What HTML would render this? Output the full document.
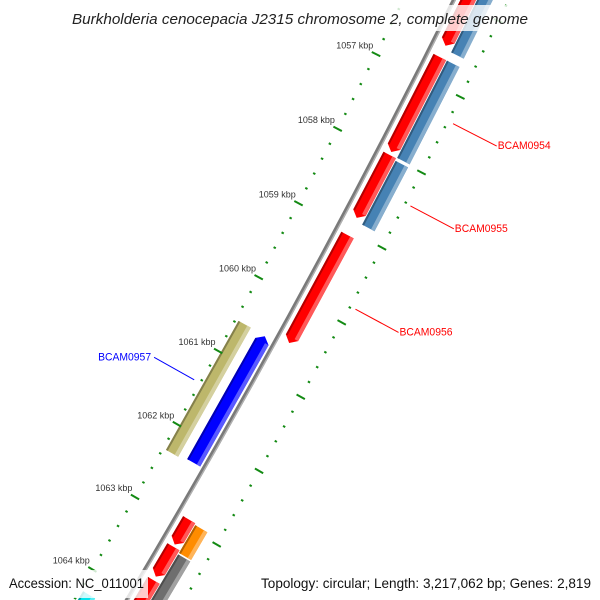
<!DOCTYPE html>
<html><head><meta charset="utf-8"><style>
html,body{margin:0;padding:0;background:#fff;width:600px;height:600px;overflow:hidden;}
svg{display:block;overflow:hidden;}
text{font-family:"Liberation Sans","DejaVu Sans",sans-serif;}
</style></head><body>
<svg id="map" width="600" height="600" viewBox="0 0 600 600" xmlns="http://www.w3.org/2000/svg">
<g id="features"></g>
<g id="backbone"></g>
<g id="ticks"></g>
<g id="labels"></g>
<rect x="66" y="5" width="468" height="26" fill="#fff" fill-opacity="0.8"/>
<text x="300" y="24" text-anchor="middle" font-size="14.5" font-style="italic" fill="#222" textLength="456" lengthAdjust="spacingAndGlyphs">Burkholderia cenocepacia J2315 chromosome 2, complete genome</text>
<rect x="4" y="570" width="144" height="28" fill="#fff" fill-opacity="0.8"/>
<text x="9" y="588" font-size="14" fill="#111" textLength="135" lengthAdjust="spacingAndGlyphs">Accession: NC_011001</text>
<text x="591" y="588" text-anchor="end" font-size="14" fill="#111" textLength="330" lengthAdjust="spacingAndGlyphs">Topology: circular; Length: 3,217,062 bp; Genes: 2,819</text>
</svg>
<script>
// ---- data ----
const featStart = [1055.5, 1056.69, 1057.99, 1059.06, 1062.91, 1063.28, 1063.74, 1055.5, 1056.69, 1058.02, 1062.93, 1063.33, 1060.58, 1060.57, 1064.28];
const featEnd   = [1056.54, 1057.95, 1058.83, 1060.51, 1063.25, 1063.69, 1064.6, 1056.58, 1057.98, 1058.87, 1063.31, 1064.6, 1062.30, 1062.33, 1065.0];
const featTrack = ['o1','o1','o1','o1','o1','o1','o1','o2','o2','o2','o2','o2','i1','i2','i2'];
const featColor = ['#ff0000','#ff0000','#ff0000','#ff0000','#ff0000','#ff0000','#ff0000','#4682b4','#4682b4','#4682b4','#ff8c00','#6e6e6e','#0000ff','#bdb76b','#00e5ee'];
const featDir   = [1,1,1,1,1,1,1,0,0,0,0,0,-1,0,0];
const tickMajors = [1056,1057,1058,1059,1060,1061,1062,1063,1064,1065];
const tickLabels = ['1056 kbp','1057 kbp','1058 kbp','1059 kbp','1060 kbp','1061 kbp','1062 kbp','1063 kbp','1064 kbp','1065 kbp'];
const geneNames = ['BCAM0954','BCAM0955','BCAM0956','BCAM0957'];
const geneFeature = [1,2,3,12];
const geneSide = [1,1,1,-1];

// ---- geometry ----
const NS='http://www.w3.org/2000/svg';
const cx=-7488, cy=-3939, a0=26.92, degPerKbp=0.546, R_BACK=8865;
const tracks={i2:[8823,8837], i1:[8846,8861], o1:[8871,8885], o2:[8886,8900]};
function pt(k,r){const a=(a0+(k-1057)*degPerKbp)*Math.PI/180;return [cx+r*Math.cos(a), cy+r*Math.sin(a)];}
function poly(pts){return pts.map(p=>p[0].toFixed(2)+','+p[1].toFixed(2)).join(' ');}
function shade(hex,f){let n=parseInt(hex.slice(1),16);let r=n>>16,g=(n>>8)&255,b=n&255;
  const m=c=>Math.round(f>0?c+(255-c)*f:c*(1+f));return `rgb(${m(r)},${m(g)},${m(b)})`;}

const fg=document.getElementById('features');
for(let i=0;i<featStart.length;i++){
  const [r1,r2]=tracks[featTrack[i]]; const a=featStart[i], b=featEnd[i], d=featDir[i];
  const h=0.07, rm=(r1+r2)/2; let pts, sa=a, sb=b;
  if(d===1){pts=[pt(a,r1),pt(a,r2),pt(b-h,r2),pt(b,rm),pt(b-h,r1)]; sb=b-h;}
  else if(d===-1){pts=[pt(a,rm),pt(a+h,r2),pt(b,r2),pt(b,r1),pt(a+h,r1)]; sa=a+h;}
  else {pts=[pt(a,r1),pt(a,r2),pt(b,r2),pt(b,r1)];}
  const p=document.createElementNS(NS,'polygon');
  
  
  p.setAttribute('points',poly(pts)); p.setAttribute('fill',featColor[i]); fg.appendChild(p);
  const lt=document.createElementNS(NS,'polygon');
  
  
  lt.setAttribute('points',poly([pt(sa,r2-4),pt(sa,r2),pt(sb,r2),pt(sb,r2-4)]));
  lt.setAttribute('fill',shade(featColor[i],0.35)); fg.appendChild(lt);
  const dk=document.createElementNS(NS,'polygon');
  
  
  dk.setAttribute('points',poly([pt(sa,r1),pt(sa,r1+2),pt(sb,r1+2),pt(sb,r1)]));
  dk.setAttribute('fill',shade(featColor[i],-0.3)); fg.appendChild(dk);
}

// backbone
const bg=document.getElementById('backbone');
function arc(r,k1,k2){const p1=pt(k1,r),p2=pt(k2,r);return `M${p1[0]},${p1[1]} A${r},${r} 0 0 1 ${p2[0]},${p2[1]}`;}
[[R_BACK,'#7a7a7a',4,'backbone'],[R_BACK+1.3,'#b0b0b0',1.4,'backbone-highlight']].forEach(s=>{
  const p=document.createElementNS(NS,'path');
  
  
  p.setAttribute('d',arc(s[0],1055.5,1065)); p.setAttribute('stroke',s[1]);
  p.setAttribute('stroke-width',s[2]); p.setAttribute('fill','none'); bg.appendChild(p);
});

// ticks
const tg=document.getElementById('ticks');
function seg(k,r1,r2,w,name){const a=pt(k,r1),b=pt(k,r2);const l=document.createElementNS(NS,'line');
  
  
  l.setAttribute('x1',a[0]);l.setAttribute('y1',a[1]);l.setAttribute('x2',b[0]);l.setAttribute('y2',b[1]);
  l.setAttribute('stroke','#138a13');l.setAttribute('stroke-width',w);tg.appendChild(l);}
for(let j=0;j<=50;j++){
  const k=1055+j*0.2; const major=(j%5===0);
  if(major){seg(k,8815,8824.5,2,'inner-major-tick');seg(k,8909.5,8919,2,'outer-major-tick');}
  else {seg(k,8818.5,8821,2,'inner-minor-tick');seg(k,8913,8915.5,2,'outer-minor-tick');}
}
tickMajors.forEach((k,i)=>{
  const p=pt(k,8815);
  const t=document.createElementNS(NS,'text');
  
  
  t.setAttribute('x',(p[0]+1.5).toFixed(1)); t.setAttribute('y',(p[1]-3.5).toFixed(1));
  t.setAttribute('text-anchor','end'); t.setAttribute('font-size','9'); t.setAttribute('fill','#333');
  t.textContent=tickLabels[i]; tg.appendChild(t);
});

// gene labels
const lg=document.getElementById('labels');
geneNames.forEach((n,i)=>{
  const f=geneFeature[i]; const mid=(featStart[f]+featEnd[f])/2; const s=geneSide[i];
  const pa=s>0?pt(mid,8920):pt(mid,8813), pb=s>0?pt(mid,8969):pt(mid,8767);
  const col=s>0?'#ff0000':'#0000ff';
  const l=document.createElementNS(NS,'line');
  
  
  l.setAttribute('x1',pa[0]);l.setAttribute('y1',pa[1]);l.setAttribute('x2',pb[0]);l.setAttribute('y2',pb[1]);
  l.setAttribute('stroke',col);l.setAttribute('stroke-width',1);lg.appendChild(l);
  const t=document.createElementNS(NS,'text');
  
  
  t.setAttribute('x',(pb[0]+(s>0?1:-3)).toFixed(1)); t.setAttribute('y',(pb[1]+3).toFixed(1));
  t.setAttribute('text-anchor',s>0?'start':'end'); t.setAttribute('font-size','11');
  t.setAttribute('fill',col); t.setAttribute('textLength','53'); t.setAttribute('lengthAdjust','spacingAndGlyphs');
  t.textContent=n; lg.appendChild(t);
});
</script>
</body></html>
